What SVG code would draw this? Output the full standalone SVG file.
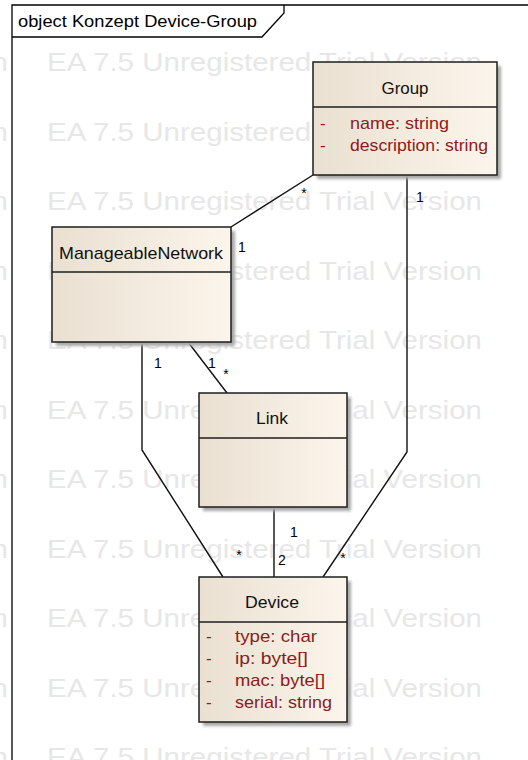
<svg xmlns="http://www.w3.org/2000/svg" width="528" height="760" viewBox="0 0 528 760">
<defs>
<linearGradient id="boxFill" x1="0" y1="0" x2="1" y2="0">
<stop offset="0" stop-color="#e9e0d1"/>
<stop offset="1" stop-color="#fcf5eb"/>
</linearGradient>
<filter id="blur" x="-10%" y="-10%" width="120%" height="120%">
<feGaussianBlur stdDeviation="1.5"/>
</filter>
<style>
.wm{font-family:"Liberation Sans",Arial,sans-serif;font-size:26px;fill:#e7e7e7}
.frame{fill:none;stroke:#000;stroke-width:1.3}
.title{font-family:"Liberation Sans",Arial,sans-serif;font-size:17px;fill:#000}
.box{fill:url(#boxFill);stroke:#1e1e1e;stroke-width:1.5}
.shadow{fill:#a8a8a8;filter:url(#blur)}
.sep{stroke:#1e1e1e;stroke-width:1.5}
.name{font-family:"Liberation Sans",Arial,sans-serif;font-size:17px;fill:#111;text-anchor:middle}
.attr{font-family:"Liberation Sans",Arial,sans-serif;font-size:17px;fill:#8b1c1c}
.conn{fill:none;stroke:#111;stroke-width:1.4}
.mult{font-family:"Liberation Sans",Arial,sans-serif;font-size:14px;fill:#000;text-anchor:middle}
</style>
</defs>
<rect width="528" height="760" fill="#fff"/>
<g id="watermark">
<text class="wm" x="47" y="71" textLength="435" lengthAdjust="spacingAndGlyphs">EA 7.5 Unregistered Trial Version</text>
<text class="wm" x="-427" y="71" textLength="435" lengthAdjust="spacingAndGlyphs">EA 7.5 Unregistered Trial Version</text>
<text class="wm" x="47" y="140.5" textLength="435" lengthAdjust="spacingAndGlyphs">EA 7.5 Unregistered Trial Version</text>
<text class="wm" x="-427" y="140.5" textLength="435" lengthAdjust="spacingAndGlyphs">EA 7.5 Unregistered Trial Version</text>
<text class="wm" x="47" y="210" textLength="435" lengthAdjust="spacingAndGlyphs">EA 7.5 Unregistered Trial Version</text>
<text class="wm" x="-427" y="210" textLength="435" lengthAdjust="spacingAndGlyphs">EA 7.5 Unregistered Trial Version</text>
<text class="wm" x="47" y="279.5" textLength="435" lengthAdjust="spacingAndGlyphs">EA 7.5 Unregistered Trial Version</text>
<text class="wm" x="-427" y="279.5" textLength="435" lengthAdjust="spacingAndGlyphs">EA 7.5 Unregistered Trial Version</text>
<text class="wm" x="47" y="349" textLength="435" lengthAdjust="spacingAndGlyphs">EA 7.5 Unregistered Trial Version</text>
<text class="wm" x="-427" y="349" textLength="435" lengthAdjust="spacingAndGlyphs">EA 7.5 Unregistered Trial Version</text>
<text class="wm" x="47" y="418.5" textLength="435" lengthAdjust="spacingAndGlyphs">EA 7.5 Unregistered Trial Version</text>
<text class="wm" x="-427" y="418.5" textLength="435" lengthAdjust="spacingAndGlyphs">EA 7.5 Unregistered Trial Version</text>
<text class="wm" x="47" y="488" textLength="435" lengthAdjust="spacingAndGlyphs">EA 7.5 Unregistered Trial Version</text>
<text class="wm" x="-427" y="488" textLength="435" lengthAdjust="spacingAndGlyphs">EA 7.5 Unregistered Trial Version</text>
<text class="wm" x="47" y="557.5" textLength="435" lengthAdjust="spacingAndGlyphs">EA 7.5 Unregistered Trial Version</text>
<text class="wm" x="-427" y="557.5" textLength="435" lengthAdjust="spacingAndGlyphs">EA 7.5 Unregistered Trial Version</text>
<text class="wm" x="47" y="627" textLength="435" lengthAdjust="spacingAndGlyphs">EA 7.5 Unregistered Trial Version</text>
<text class="wm" x="-427" y="627" textLength="435" lengthAdjust="spacingAndGlyphs">EA 7.5 Unregistered Trial Version</text>
<text class="wm" x="47" y="696.5" textLength="435" lengthAdjust="spacingAndGlyphs">EA 7.5 Unregistered Trial Version</text>
<text class="wm" x="-427" y="696.5" textLength="435" lengthAdjust="spacingAndGlyphs">EA 7.5 Unregistered Trial Version</text>
<text class="wm" x="47" y="766" textLength="435" lengthAdjust="spacingAndGlyphs">EA 7.5 Unregistered Trial Version</text>
<text class="wm" x="-427" y="766" textLength="435" lengthAdjust="spacingAndGlyphs">EA 7.5 Unregistered Trial Version</text>
</g>
<g id="frame">
<path class="frame" d="M12,762 V5 H530"/>
<path class="frame" d="M12,37 H262 L284,13 V5"/>
<text class="title" x="18" y="27" textLength="239" lengthAdjust="spacingAndGlyphs">object Konzept Device-Group</text>
</g>
<g id="connectors">
<path class="conn" d="M313,175 L231,227"/>
<path class="conn" d="M407,175 V452 L323,577"/>
<path class="conn" d="M142,342 V450 L223,577"/>
<path class="conn" d="M188,342 L227,393"/>
<path class="conn" d="M274,507 V577"/>
<text class="mult" x="304" y="198">*</text>
<text class="mult" x="242" y="252">1</text>
<text class="mult" x="420" y="202">1</text>
<text class="mult" x="343" y="563">*</text>
<text class="mult" x="158" y="368">1</text>
<text class="mult" x="239" y="560">*</text>
<text class="mult" x="212" y="368">1</text>
<text class="mult" x="226" y="379">*</text>
<text class="mult" x="294" y="537">1</text>
<text class="mult" x="282" y="565">2</text>
</g>
<g id="Group">
<rect class="shadow" x="317" y="66" width="184" height="113"/>
<rect class="box" x="313" y="62" width="184" height="113"/>
<line class="sep" x1="313" y1="107" x2="497" y2="107"/>
<text class="name" x="405" y="94" textLength="47" lengthAdjust="spacingAndGlyphs">Group</text>
<text class="attr" x="320" y="129">-</text>
<text class="attr" x="350" y="129" textLength="99" lengthAdjust="spacingAndGlyphs">name: string</text>
<text class="attr" x="320" y="151">-</text>
<text class="attr" x="350" y="151" textLength="138" lengthAdjust="spacingAndGlyphs">description: string</text>
</g>
<g id="ManageableNetwork">
<rect class="shadow" x="56" y="231" width="179" height="115"/>
<rect class="box" x="52" y="227" width="179" height="115"/>
<line class="sep" x1="52" y1="272" x2="231" y2="272"/>
<text class="name" x="141" y="259" textLength="164" lengthAdjust="spacingAndGlyphs">ManageableNetwork</text>
</g>
<g id="Link">
<rect class="shadow" x="203" y="397" width="148" height="114"/>
<rect class="box" x="199" y="393" width="148" height="114"/>
<line class="sep" x1="199" y1="438" x2="347" y2="438"/>
<text class="name" x="272" y="424" textLength="32" lengthAdjust="spacingAndGlyphs">Link</text>
</g>
<g id="Device">
<rect class="shadow" x="203" y="581" width="148" height="145"/>
<rect class="box" x="199" y="577" width="148" height="145"/>
<line class="sep" x1="199" y1="622" x2="347" y2="622"/>
<text class="name" x="272" y="608" textLength="54" lengthAdjust="spacingAndGlyphs">Device</text>
<text class="attr" x="206" y="642">-</text>
<text class="attr" x="235" y="642" textLength="82" lengthAdjust="spacingAndGlyphs">type: char</text>
<text class="attr" x="206" y="664">-</text>
<text class="attr" x="235" y="664" textLength="73" lengthAdjust="spacingAndGlyphs">ip: byte[]</text>
<text class="attr" x="206" y="686">-</text>
<text class="attr" x="235" y="686" textLength="90" lengthAdjust="spacingAndGlyphs">mac: byte[]</text>
<text class="attr" x="206" y="708">-</text>
<text class="attr" x="235" y="708" textLength="97" lengthAdjust="spacingAndGlyphs">serial: string</text>
</g>
</svg>
